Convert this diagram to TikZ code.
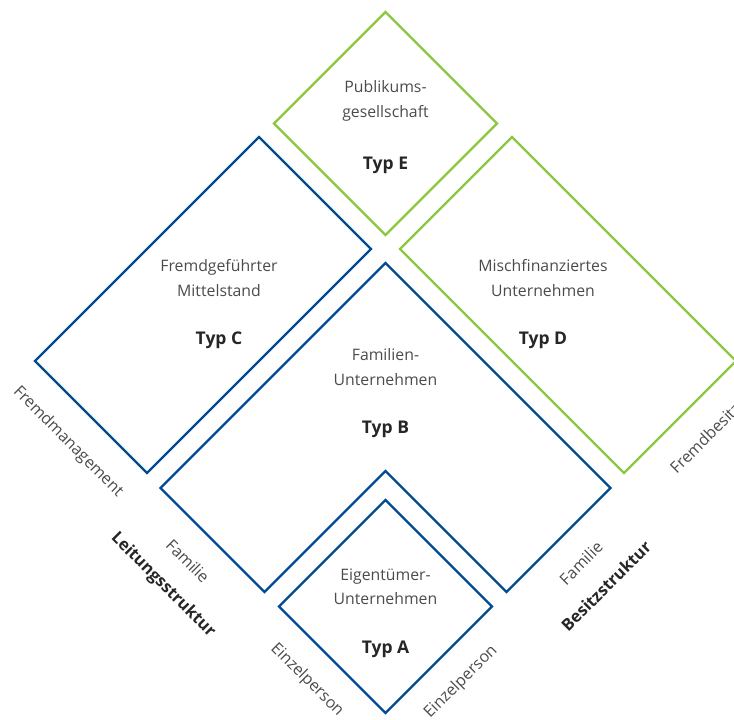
\documentclass[tikz,border=0pt]{standalone}
\usepackage{fontspec}
\setmainfont{Open Sans}
\usetikzlibrary{positioning}
\definecolor{unblue}{RGB}{0,75,145}
\definecolor{ungreen}{RGB}{141,198,63}
\definecolor{untext}{RGB}{75,75,75}
\tikzstyle{blueframe} = [draw=unblue, line width=2.4pt, line join=miter]
\tikzstyle{greenframe} = [draw=ungreen, line width=2.4pt, line join=miter]
\tikzstyle{typname} = [align=center, text=untext, inner sep=0pt, font=\fontsize{15.8}{24.5}\selectfont]
\tikzstyle{typlabel} = [text=black!85, inner sep=0pt, font=\fontsize{17.5}{20}\selectfont\bfseries]
\tikzstyle{axislabel} = [text=untext, inner sep=0pt, font=\fontsize{16}{18}\selectfont]
\tikzstyle{axistitle} = [text=black!85, inner sep=0pt, font=\fontsize{16.5}{19}\selectfont\bfseries]

\begin{document}
\begin{tikzpicture}[x=1pt, y=-1pt, node distance=35pt]
    \useasboundingbox (0,0) rectangle (734,720);
    \clip (0,0) rectangle (734,720);
    % frames
    \draw [greenframe] (385.5,12) -- (497,123.5) -- (385.5,235) -- (274,123.5) -- cycle;
    \draw [blueframe] (259,137) -- (371,249) -- (147,473) -- (35,361) -- cycle;
    \draw [greenframe] (512,137) -- (736,361) -- (624,473) -- (400,249) -- cycle;
    \draw [blueframe] (385.5,263) -- (610.5,488) -- (506.5,592) -- (385.5,471)
        -- (264.5,592) -- (160.5,488) -- cycle;
    \draw [blueframe] (385.5,500) -- (492,606.5) -- (385.5,713) -- (279,606.5) -- cycle;
    % types
    \node (nameE) [typname] at (385.5,101) {Publikums-\\gesellschaft};
    \node (typE)  [typlabel, below=of nameE] {Typ E};
    \node (nameC) [typname] at (219,278) {Fremdgeführter\\Mittelstand};
    \node (typC)  [typlabel, below=of nameC] {Typ C};
    \node (nameD) [typname] at (543,278) {Mischfinanziertes\\Unternehmen};
    \node (typD)  [typlabel, below=of nameD] {Typ D};
    \node (nameB) [typname] at (385.5,367) {Familien-\\Unternehmen};
    \node (typB)  [typlabel, below=of nameB] {Typ B};
    \node (nameA) [typname] at (385.5,587) {Eigentümer-\\Unternehmen};
    \node (typA)  [typlabel, below=of nameA] {Typ A};
    % axes
    \node (fm)   [axislabel, rotate=-45] at (68,442) {Fremdmanagement};
    \node (famL) [axislabel, rotate=-45] at (188,561) {Familie};
    \node (lead) [axistitle, rotate=-45] at (163,585) {Leitungsstruktur};
    \node (epL)  [axislabel, rotate=-45] at (307,680) {Einzelperson};
    \node (epR)  [axislabel, rotate=45] at (461,682) {Einzelperson};
    \node (famR) [axislabel, rotate=45] at (581,563) {Familie};
    \node (own)  [axistitle, rotate=45] at (606,586) {Besitzstruktur};
    \node (fb)   [axislabel, rotate=45] at (705,438) {Fremdbesitz};
\end{tikzpicture}
\end{document}
